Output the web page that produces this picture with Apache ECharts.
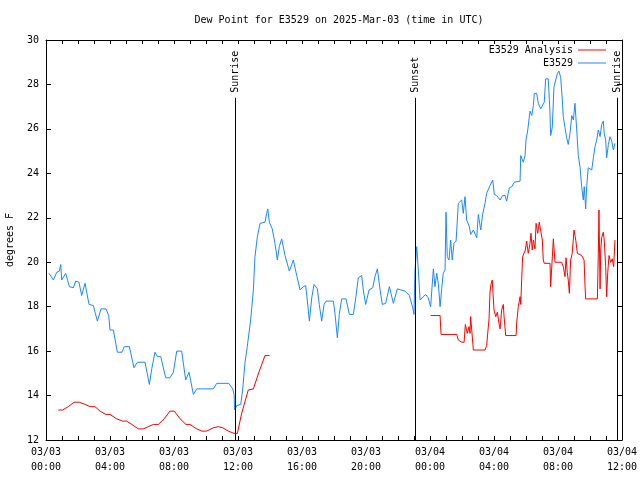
<!DOCTYPE html>
<html><head><meta charset="utf-8">
<script src="https://cdn.jsdelivr.net/npm/echarts@6/dist/echarts.min.js"></script>
<style>html,body{margin:0;padding:0;background:#fff}#c{width:640px;height:480px}</style>
</head><body><div id="c"></div>
<script>
// hours since 2025-03-03 00:00 UTC
var xTickLabels = ["03/03\n00:00","03/03\n04:00","03/03\n08:00","03/03\n12:00","03/03\n16:00","03/03\n20:00","03/04\n00:00","03/04\n04:00","03/04\n08:00","03/04\n12:00"];
var sunHours = [11.81, 23.06, 35.66];
var sunLabels = ["Sunrise", "Sunset", "Sunrise"];
var sunLineTop = 27.4;

var obsHours = [0.19,0.46,0.67,0.83,0.92,0.98,1.23,1.46,1.71,1.86,2.06,2.23,2.44,2.69,2.96,3.21,3.44,3.75,3.92,4.0,4.21,4.46,4.75,4.89,5.21,5.5,5.71,6.19,6.46,6.61,6.81,6.96,7.17,7.48,7.75,7.96,8.17,8.48,8.73,8.94,9.21,9.42,9.73,10.46,10.67,11.42,11.67,11.75,11.79,11.92,12.17,12.29,12.44,12.58,12.79,12.96,13.06,13.21,13.38,13.48,13.69,13.79,13.86,13.96,14.14,14.31,14.46,14.58,14.73,14.94,15.21,15.46,15.67,15.88,16.08,16.23,16.33,16.46,16.61,16.75,16.96,17.08,17.23,17.38,17.5,17.96,18.06,18.21,18.33,18.48,18.75,18.96,19.21,19.36,19.52,19.73,19.83,19.98,20.19,20.42,20.56,20.71,20.88,21.02,21.23,21.46,21.71,21.96,22.44,22.71,22.92,23.0,23.06,23.17,23.27,23.38,23.58,23.73,23.89,24.04,24.14,24.21,24.31,24.42,24.52,24.63,24.73,24.83,24.94,25.0,25.08,25.19,25.29,25.39,25.5,25.63,25.77,25.88,25.98,26.08,26.19,26.29,26.46,26.54,26.71,26.81,26.92,27.02,27.17,27.29,27.44,27.54,27.75,27.92,28.02,28.17,28.38,28.54,28.69,28.79,28.96,29.11,29.27,29.63,29.67,29.77,29.83,29.94,30.0,30.11,30.25,30.36,30.46,30.52,30.67,30.77,30.92,31.04,31.14,31.23,31.39,31.5,31.54,31.64,31.75,31.86,31.96,32.06,32.17,32.27,32.33,32.44,32.54,32.64,32.75,32.86,32.96,33.06,33.17,33.27,33.38,33.48,33.58,33.64,33.73,33.79,33.89,34.11,34.21,34.31,34.42,34.52,34.63,34.73,34.83,34.89,34.98,35.04,35.15,35.25,35.36,35.46,35.56];
var obsValues = [19.5,19.2,19.55,19.6,19.9,19.2,19.5,18.9,18.85,19.15,19.1,18.5,19.05,18.1,18.05,17.35,17.9,17.9,17.6,16.95,16.95,15.95,15.95,16.2,16.2,15.25,15.5,15.5,14.5,15.2,15.95,15.75,15.75,14.8,14.8,15.05,16.0,16.0,14.7,15.05,14.05,14.3,14.3,14.3,14.55,14.55,14.3,14.05,13.35,13.55,13.6,14.25,15.5,16.2,17.4,18.75,20.25,21.15,21.75,21.8,21.8,22.2,22.4,21.8,21.5,20.85,20.1,20.7,21.05,20.3,19.6,20.1,19.4,18.75,18.9,18.95,18.3,17.35,18.4,19.0,18.8,18.1,17.35,18.1,18.25,18.25,17.7,16.6,17.65,18.35,18.35,17.65,17.65,18.4,19.3,19.4,18.75,18.1,18.75,18.85,19.35,19.7,18.75,18.1,18.15,18.9,18.15,18.8,18.7,18.5,17.95,17.65,19.6,20.7,19.65,18.3,18.45,18.55,18.4,18.0,18.0,19.7,18.9,19.5,19.05,18.0,18.8,19.5,19.65,22.25,20.25,20.1,21.0,20.1,20.85,20.95,22.65,22.6,22.8,22.2,22.95,21.9,21.6,21.25,21.45,21.4,21.1,22.15,21.45,22.15,22.65,23.1,23.45,23.7,23.05,23.0,22.8,23.0,23.0,22.75,23.35,23.4,23.6,23.65,24.8,24.75,24.5,24.8,25.5,25.95,26.8,26.6,27.05,27.6,27.6,27.15,26.9,26.9,27.2,28.25,28.25,26.7,25.7,26.05,27.9,28.2,28.5,28.6,28.3,27.3,26.55,26.05,25.6,25.3,25.8,26.6,26.4,27.15,25.95,24.8,24.25,23.4,22.8,23.4,22.4,23.4,24.25,24.15,24.7,25.2,25.5,25.95,25.65,26.2,26.35,25.8,25.5,24.7,25.3,25.65,25.45,25.05,25.35];

var anaHours = [0.77,1.04,1.39,1.75,2.08,2.44,2.75,3.06,3.38,3.73,4.0,4.42,4.79,5.04,5.36,5.77,6.08,6.39,6.71,7.02,7.38,7.75,8.02,8.38,8.75,9.0,9.42,9.73,10.04,10.46,10.77,11.04,11.39,11.75,11.96,12.23,12.64,12.96,13.33,13.69,13.96,19.0,24.04,24.63,24.69,25.67,25.77,25.98,26.13,26.21,26.33,26.44,26.5,26.54,26.64,26.71,27.44,27.54,27.64,27.69,27.75,27.81,27.89,27.94,28.0,28.11,28.21,28.31,28.38,28.48,28.58,28.63,28.69,28.73,29.38,29.42,29.52,29.63,29.67,29.73,29.79,29.88,29.96,30.04,30.14,30.25,30.31,30.39,30.46,30.56,30.63,30.73,30.83,30.92,31.02,31.08,31.14,31.5,31.54,31.64,31.71,31.79,31.81,32.23,32.33,32.44,32.5,32.58,32.64,32.71,32.79,32.89,33.0,33.11,33.21,33.48,33.63,33.69,33.73,34.46,34.52,34.56,34.63,34.67,34.73,34.83,34.89,34.98,35.04,35.11,35.19,35.29,35.39,35.48,35.56];
var anaValues = [13.35,13.35,13.5,13.7,13.7,13.6,13.5,13.5,13.3,13.15,13.15,12.95,12.85,12.85,12.7,12.5,12.5,12.6,12.7,12.7,12.95,13.3,13.3,12.95,12.7,12.7,12.5,12.4,12.4,12.55,12.6,12.55,12.4,12.3,12.3,13.2,14.25,14.3,15.1,15.8,15.8,null,17.6,17.6,16.75,16.75,16.5,16.4,16.4,17.2,16.8,17.1,16.8,17.55,17.55,16.05,16.05,16.25,16.25,17.45,18.65,19.0,19.2,18.6,17.85,17.55,17.75,17.25,17.0,17.85,18.1,17.55,17.55,16.7,16.7,17.3,18.0,18.45,18.1,19.2,20.25,20.25,20.55,20.95,20.4,20.85,21.3,20.55,21.0,20.6,21.75,21.3,21.8,21.85,21.0,20.1,19.95,19.95,18.9,18.9,21.05,21.05,20.0,20.0,19.8,19.35,20.2,19.55,19.2,18.6,20.1,20.4,21.45,21.0,20.4,20.3,20.1,18.9,18.35,18.35,20.4,22.35,18.8,20.55,21.1,21.35,21.0,19.8,18.45,19.55,20.3,20.0,20.15,19.8,21.0];

function pairs(xs, ys){ var out=[]; for(var i=0;i<xs.length;i++){ out.push([xs[i], ys[i]]); } return out; }
var sunData = sunHours.map(function(h){ return [h, 12]; });

var FONT = '"DejaVu Sans Mono", monospace';
var chart = echarts.init(document.getElementById('c'), null, {renderer:'canvas'});
var axisCommon = {
  axisLine:{show:true, onZero:false, lineStyle:{color:'#000', width:1}},
  splitLine:{show:false}
};
chart.setOption({
  animation:false,
  backgroundColor:'#fff',
  title:{text:'Dew Point for E3529 on 2025-Mar-03 (time in UTC)', left:334, textAlign:'center', top:10,
    textStyle:{fontFamily:FONT, fontSize:10, fontWeight:'normal', color:'#000'}},
  legend:[
    {data:['E3529 Analysis'], right:29, top:40, align:'right', icon:'rect', itemWidth:28, itemHeight:1, selectedMode:false,
      textStyle:{fontFamily:FONT, fontSize:10, color:'#000'}},
    {data:['E3529'], right:29, top:53, align:'right', icon:'rect', itemWidth:28, itemHeight:1, selectedMode:false,
      textStyle:{fontFamily:FONT, fontSize:10, color:'#000'}}
  ],
  grid:{left:46, right:18, top:40, bottom:40, containLabel:false, outerBoundsMode:'none'},
  xAxis:[
    Object.assign({type:'value', position:'bottom', min:0, max:36, interval:4,
      axisTick:{show:true, inside:true, length:4, lineStyle:{color:'#000'}},
      minorTick:{show:true, splitNumber:4, length:4, lineStyle:{color:'#000'}},
      axisLabel:{show:true, margin:5, fontFamily:FONT, fontSize:10, color:'#000', lineHeight:15,
        showMinLabel:true, showMaxLabel:true,
        formatter:function(v){ return xTickLabels[Math.round(v/4)] || ''; }}
    }, axisCommon),
    Object.assign({type:'value', position:'top', min:0, max:36, interval:4,
      axisTick:{show:true, inside:true, length:4, lineStyle:{color:'#000'}},
      minorTick:{show:true, splitNumber:4, length:4, lineStyle:{color:'#000'}},
      axisLabel:{show:false}
    }, axisCommon)
  ],
  yAxis:[
    Object.assign({type:'value', position:'left', min:12, max:30, interval:2,
      name:'degrees F', nameLocation:'middle', nameGap:31, nameRotate:90,
      nameTextStyle:{fontFamily:FONT, fontSize:10, color:'#000'},
      axisTick:{show:true, inside:true, length:5, lineStyle:{color:'#000'}},
      axisLabel:{show:true, margin:7, fontFamily:FONT, fontSize:10, color:'#000'}
    }, axisCommon),
    Object.assign({type:'value', position:'right', min:12, max:30, interval:2,
      axisTick:{show:true, inside:true, length:5, lineStyle:{color:'#000'}},
      axisLabel:{show:false}
    }, axisCommon)
  ],
  series:[
    {name:'E3529 Analysis', type:'line', data:pairs(anaHours, anaValues), showSymbol:false, symbol:'none',
      connectNulls:false, color:'#ff0000', lineStyle:{width:1, color:'#ff0000'}, z:3},
    {name:'E3529', type:'line', data:pairs(obsHours, obsValues), showSymbol:false, symbol:'none',
      color:'#1e88ff', lineStyle:{width:1, color:'#1e88ff'}, z:2},
    {name:'sun', type:'custom', data:sunData, encode:{x:0, y:1}, clip:false, z:4, silent:true,
      renderItem:function(params, api){
        var t = api.value(0);
        var p0 = api.coord([t, 12]);
        var p1 = api.coord([t, sunLineTop]);
        var x = Math.round(p0[0]) + 0.5;
        return {type:'group', children:[
          {type:'line', shape:{x1:x, y1:p0[1], x2:x, y2:p1[1]}, style:{stroke:'#000', lineWidth:1}},
          {type:'text', x:x, y:p1[1]-5, rotation:Math.PI/2,
            style:{text:sunLabels[params.dataIndex], font:'10px "DejaVu Sans Mono"', fill:'#000', align:'left', verticalAlign:'middle'}}
        ]};
      }}
  ]
});
</script></body></html>
